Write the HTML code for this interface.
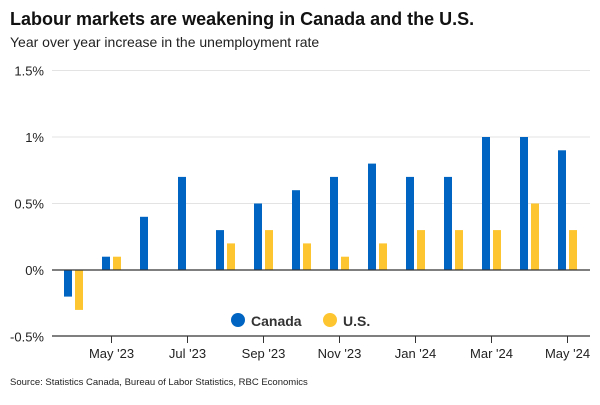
<!DOCTYPE html>
<html><head><meta charset="utf-8"><style>
body{margin:0;background:#fff;font-family:"Liberation Sans",sans-serif}
</style></head><body>
<svg width="600" height="400" xmlns="http://www.w3.org/2000/svg" id="c">
<text x="10" y="25" font-size="18" font-weight="bold" fill="#111">Labour markets are weakening in Canada and the U.S.</text>
<text x="10" y="47" font-size="14" fill="#222">Year over year increase in the unemployment rate</text>
<text x="10" y="385" font-size="9.5" fill="#222">Source: Statistics Canada, Bureau of Labor Statistics, RBC Economics</text>
<g id="grid"></g><g id="bars"></g><g id="axes"></g>
<g>
<circle cx="238" cy="320" r="7" fill="#0065c2"/>
<text x="251" y="326" font-size="14" font-weight="bold" fill="#333">Canada</text>
<circle cx="330" cy="320" r="7" fill="#fdc52f"/>
<text x="343" y="326" font-size="14" font-weight="bold" fill="#333">U.S.</text>
</g>
</svg>
<script>
const months=["Apr '23","May '23","Jun '23","Jul '23","Aug '23","Sep '23","Oct '23","Nov '23","Dec '23","Jan '24","Feb '24","Mar '24","Apr '24","May '24"];
const canada=[-0.2,0.1,0.4,0.7,0.3,0.5,0.6,0.7,0.8,0.7,0.7,1.0,1.0,0.9];
const us=[-0.3,0.1,0,0,0.2,0.3,0.2,0.1,0.2,0.3,0.3,0.3,0.5,0.3];
const yTicks=[-0.5,0,0.5,1,1.5];
const yLabels=["-0.5%","0%","0.5%","1%","1.5%"];
const NS="http://www.w3.org/2000/svg";
const y=v=>270-v*133;
const x=i=>73.5+38*i;
function mk(t,a,p){const e=document.createElementNS(NS,t);for(const k in a)e.setAttribute(k,a[k]);document.getElementById(p).appendChild(e);return e;}
yTicks.forEach((v,i)=>{
 if(v!==0&&v!==-0.5){const l=mk('line',{x1:52,x2:590,y1:y(v),y2:y(v),stroke:'#e3e3e3','stroke-width':1},'grid');
 
 }
 const t=mk('text',{x:44,y:y(v)+5,'text-anchor':'end','font-size':13,fill:'#222'},'axes');t.textContent=yLabels[i];
 
 
});
months.forEach((m,i)=>{
 [[canada[i],-9.5,'#0065c2','bar-canada'],[us[i],1.5,'#fdc52f','bar-us']].forEach(([v,o,c,n])=>{
  if(v===0)return;
  const r=mk('rect',{x:x(i)+o,y:Math.min(y(v),y(0)),width:8,height:Math.abs(y(v)-y(0)),fill:c},'bars');
  
  
 });
 if(i%2===1){
  const tk=mk('line',{x1:x(i),x2:x(i),y1:336,y2:343,stroke:'#333'},'axes');
  
  
  const t=mk('text',{x:x(i),y:358,'text-anchor':'middle','font-size':13,fill:'#222'},'axes');t.textContent=m;
  
  
 }
});
const z=mk('line',{x1:52,x2:590,y1:y(0),y2:y(0),stroke:'#333','stroke-width':1.2},'axes');


const b=mk('line',{x1:52,x2:590,y1:336,y2:336,stroke:'#333','stroke-width':1.2},'axes');


</script>
</body></html>
